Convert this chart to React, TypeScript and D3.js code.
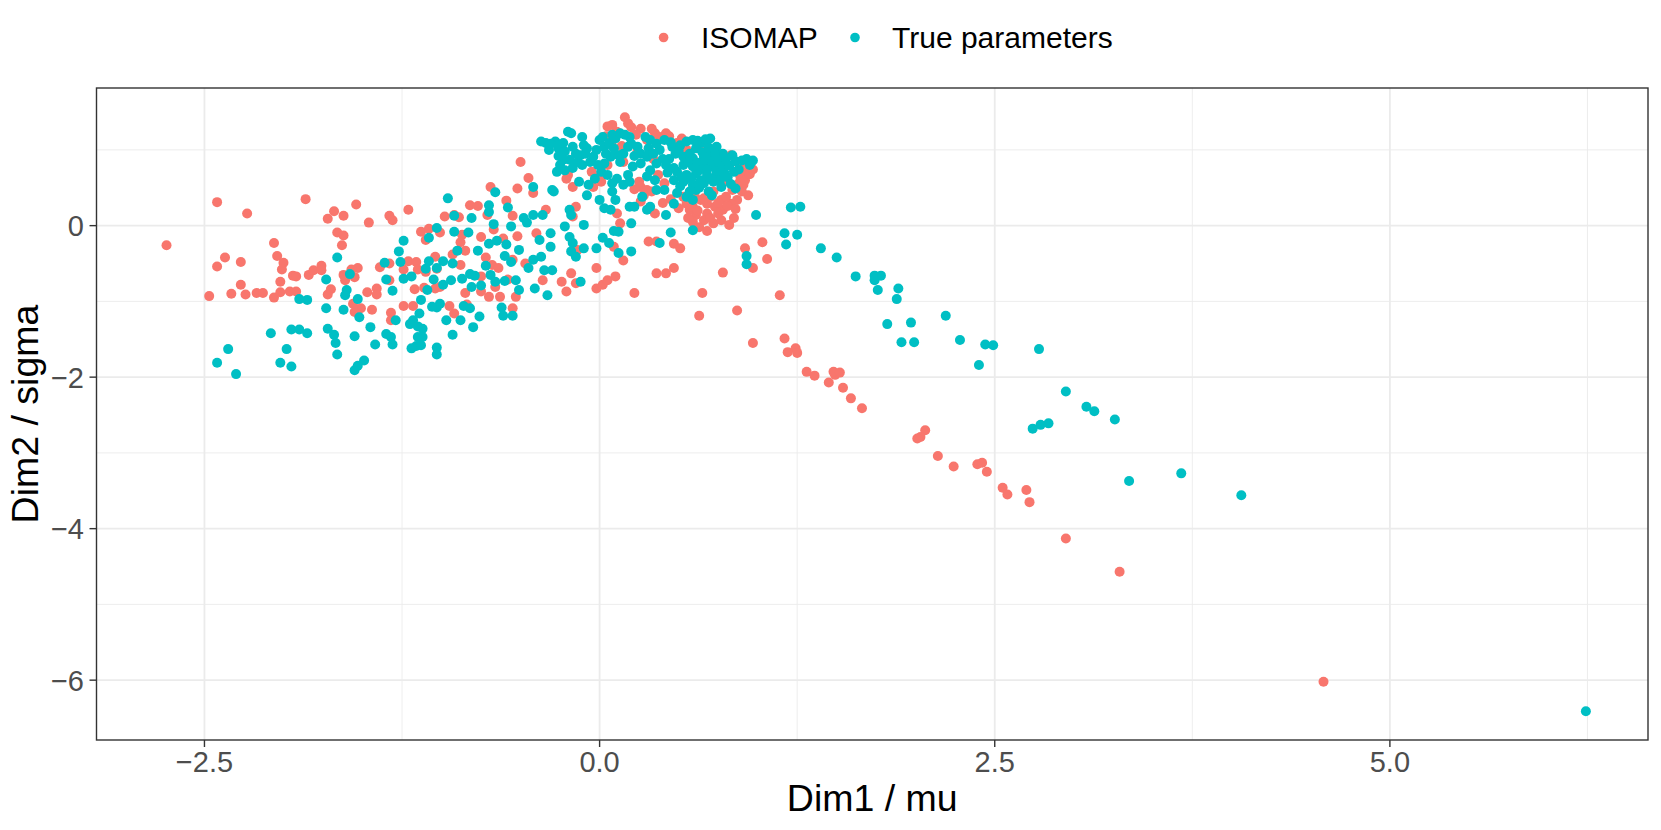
import React from 'react';
import * as d3 from 'd3';

const isomapPoints: [number, number][] = [
  [-2.74,-0.26],[-2.42,0.31],[-2.23,0.16],[-1.86,0.35],[-1.54,0.28],[-1.68,0.19],[-1.72,0.09],[-1.62,0.13],[-1.46,0.04],[-1.33,0.13],[-1.31,0.07],[-1.21,0.21],[-1.66,-0.09],[-1.62,-0.13],[-1.63,-0.26],[-2.06,-0.23],[-2.04,-0.40],[-2.00,-0.49],[-2.01,-0.58],[-2.37,-0.42],[-2.42,-0.54],[-2.27,-0.48],[-2.27,-0.78],[-2.33,-0.90],[-2.24,-0.91],[-2.47,-0.93],[-2.17,-0.89],[-2.13,-0.89],[-2.06,-0.95],[-2.02,-0.74],[-2.02,-0.88],[-1.96,-0.87],[-1.92,-0.87],[-1.94,-0.66],[-1.92,-0.67],[-1.84,-0.65],[-1.81,-0.59],[-1.76,-0.53],[-1.76,-0.59],[-1.62,-0.65],[-1.61,-0.72],[-1.53,-0.56],[-1.55,-0.68],[-1.57,-0.58],[-1.72,-0.91],[-1.70,-0.84],[-1.47,-0.88],[-1.41,-0.83],[-1.41,-0.91],[-1.39,-0.55],[-1.33,-0.50],[-1.33,-0.72],[-1.24,-0.58],[-1.21,-0.47],[-1.16,-0.48],[-1.17,-0.84],[-1.13,-0.08],[-1.08,-0.04],[-1.01,-0.09],[-0.98,0.12],[-0.92,0.14],[-0.89,0.11],[-0.82,0.27],[-0.77,0.26],[-0.69,0.51],[-0.59,0.33],[-0.52,0.49],[-0.71,0.14],[-0.75,-0.15],[-0.67,-0.05],[-0.61,-0.17],[-0.52,-0.14],[-0.55,0.13],[-0.87,-0.12],[-0.88,-0.22],[-0.93,-0.38],[-0.85,-0.33],[-1.04,-0.41],[-1.03,-0.57],[-1.15,-0.58],[-1.10,-0.61],[-1.04,-0.83],[-0.95,-1.06],[-0.92,-1.16],[-0.84,-1.04],[-0.70,-0.94],[-0.63,-0.94],[-0.55,-1.09],[-0.75,-0.87],[-0.66,-0.81],[-0.58,-0.71],[-0.53,-0.94],[-0.68,-0.52],[-0.64,-0.56],[-0.75,-0.67],[-0.88,-0.52],[-1.01,-0.81],[-1.11,-0.82],[-1.24,-1.06],[-1.18,-1.06],[-1.32,-1.15],[-1.32,-1.25],[-1.51,-1.09],[-1.55,-1.14],[-1.44,-1.11],[-1.56,-1.03],[-1.10,-0.19],[-0.85,-0.89],[-0.55,-0.45],[-0.72,-0.42],
  [0.16,1.43],[0.18,1.35],[0.08,1.33],[0.05,1.31],[0.11,1.24],[0.26,1.28],[0.35,1.22],[0.38,1.17],[0.47,1.06],[0.49,1.09],[0.78,0.93],[0.83,0.93],[0.87,0.84],[0.89,0.80],[0.93,0.71],[0.88,0.56],[0.91,0.54],[0.94,0.40],[0.87,0.34],[0.83,0.29],[0.77,0.34],[0.73,0.25],[0.68,0.16],[0.61,0.14],[0.57,0.21],[0.55,0.29],[0.53,0.38],[0.50,0.23],[0.66,0.07],[0.72,0.03],[0.77,0.07],[0.82,0.01],[0.59,0.05],[0.26,0.51],[0.25,0.58],[0.30,0.47],[0.26,0.32],[0.35,0.16],[0.33,0.45],[0.37,0.67],[0.41,0.56],[0.05,0.80],[0.00,0.65],[0.01,0.58],[0.12,0.93],[0.15,0.84],[-0.04,0.51],[-0.05,0.71],[-0.20,0.67],[-0.21,0.62],[-0.17,0.51],[-0.34,0.21],[-0.15,0.25],[-0.17,0.12],[0.11,0.16],[0.13,0.03],[0.64,0.34],[0.68,0.29],[0.59,0.25],[0.70,0.38],[0.80,0.38],[0.84,0.47],[0.78,0.21],[0.30,1.13],[0.42,1.22],[0.55,1.00],[0.80,0.60],[0.89,0.65],[0.92,0.60],
  [0.60,0.42],[0.66,0.36],[0.72,0.45],[0.75,0.30],[0.81,0.26],[0.86,0.22],[0.90,0.45],[0.95,0.68],[0.97,0.74],[0.62,0.20],[0.70,0.10],[0.75,0.16],[0.85,0.10],[0.63,-0.02],[0.56,0.10],[0.45,0.35],[0.40,0.30],[0.28,0.40],[0.22,0.48],[0.34,0.88],[0.44,1.18],[0.52,1.15],[0.23,1.20],[0.33,1.28],[0.20,1.30],[0.08,1.12],[0.14,1.05],[0.24,0.98],[0.04,1.18],[0.63,1.05],[0.72,0.98],
  [-0.50,0.84],[-0.45,0.63],[-0.40,-0.10],[-0.42,0.43],[0.31,-0.21],[0.36,-0.21],[0.47,-0.24],[0.51,-0.30],[0.36,-0.63],[0.42,-0.63],[0.47,-0.56],[-0.02,-0.56],[0.10,-0.67],[0.02,-0.78],[0.05,-0.72],[-0.02,-0.83],[-0.18,-0.63],[-0.15,-0.76],[-0.24,-0.74],[-0.21,-0.87],[-0.47,-0.50],[-0.36,-0.72],[-0.14,-0.32],[0.09,-0.28],[0.15,-0.46],[0.22,-0.89],
  [0.92,-0.30],[1.03,-0.22],[1.06,-0.44],[0.97,-0.56],[0.78,-0.62],[0.65,-0.89],[1.14,-0.92],[0.68,-0.07],
  [0.63,-1.19],[0.87,-1.12],[0.97,-1.55],[1.17,-1.49],[1.19,-1.67],[1.24,-1.62],[1.25,-1.68],[1.31,-1.93],[1.36,-1.98],[1.45,-2.07],[1.49,-1.97],[1.48,-1.93],
  [1.52,-1.94],[1.54,-2.14],[1.59,-2.28],[1.66,-2.41],[2.06,-2.70],[2.03,-2.79],[2.01,-2.81],[2.14,-3.04],[2.24,-3.18],[2.39,-3.15],[2.42,-3.13],[2.45,-3.25],[2.55,-3.46],[2.58,-3.55],[2.70,-3.49],[2.72,-3.65],[2.95,-4.13],[3.29,-4.57],[4.58,-6.02]
];

const truePoints: [number, number][] = [
  [-0.96,0.36],[-0.66,0.44],[-0.70,0.27],[-0.70,0.18],[-0.58,0.24],[-0.92,0.13],[-0.81,0.10],[-0.92,-0.08],[-0.83,-0.09],[-0.67,0.02],[-0.56,-0.01],[-1.03,-0.03],[-1.08,-0.16],[-1.24,-0.20],[-1.27,-0.34],[-1.26,-0.48],[-1.36,-0.49],[-1.66,-0.42],[-1.58,-0.64],[-1.35,-0.71],[-1.31,-0.86],[-1.24,-0.70],[-1.19,-0.67],[-1.10,-0.57],[-1.08,-0.47],[-1.03,-0.56],[-0.99,-0.47],[-0.93,-0.50],[-1.05,-0.71],[-0.99,-0.78],[-0.94,-0.72],[-1.09,-0.85],[-0.87,-0.70],[-0.90,-0.33],[-0.77,-0.33],[-0.70,-0.24],[-0.65,-0.20],[-0.60,-0.40],[-0.56,-0.48],[-0.72,-0.53],[-0.69,-0.65],[-0.82,-0.64],[-0.79,-0.66],[-0.81,-0.81],[-0.75,-0.79],[-0.66,-0.74],[-0.60,-0.73],[-0.53,-0.72],[-0.86,-1.06],[-0.82,-1.09],[-0.76,-1.20],[-0.80,-1.34],[-0.88,-1.25],[-0.97,-1.25],[-0.93,-1.44],[-1.03,-1.08],[-1.01,-1.03],[-1.06,-1.07],[-1.13,-0.98],[-1.14,-1.16],[-1.18,-1.25],[-1.20,-1.30],[-1.15,-1.33],[-1.12,-1.36],[-1.12,-1.47],[-1.15,-1.47],[-1.16,-1.59],[-1.19,-1.62],[-1.13,-1.58],[-1.03,-1.61],[-1.03,-1.70],[-1.29,-1.25],[-1.35,-1.43],[-1.32,-1.47],[-1.31,-1.57],[-1.42,-1.57],[-1.45,-1.34],[-1.52,-1.21],[-1.53,-0.97],[-1.60,-0.85],[-1.61,-0.92],[-1.73,-0.71],[-1.73,-1.09],[-1.62,-1.11],[-1.72,-1.36],[-1.68,-1.44],[-1.67,-1.55],[-1.66,-1.70],[-1.55,-1.46],[-1.49,-1.78],[-1.53,-1.85],[-1.55,-1.91],[-1.90,-0.97],[-1.85,-0.98],[-1.95,-1.37],[-1.90,-1.37],[-1.85,-1.42],[-2.08,-1.42],[-1.98,-1.63],[-2.02,-1.81],[-1.95,-1.86],[-2.35,-1.63],[-2.42,-1.81],[-2.30,-1.96],[-0.62,-1.08],[-0.61,-1.19],[-0.55,-1.19],[-0.51,-0.85],[-0.59,-0.25],[-0.51,-0.32],
  [-0.37,1.11],[-0.34,1.09],[-0.32,1.00],[-0.28,1.11],[-0.26,1.02],[-0.23,1.09],[-0.22,0.98],[-0.20,1.24],[-0.18,1.22],[-0.17,1.04],[-0.15,0.95],[-0.11,1.17],[-0.10,1.06],[-0.08,1.02],[-0.09,0.95],[-0.14,0.84],[-0.19,0.87],[-0.23,0.87],[-0.25,0.80],[-0.27,0.71],[-0.22,0.73],[-0.17,0.76],[-0.11,0.80],[-0.06,0.84],[-0.04,0.91],[-0.02,1.00],[0.00,1.13],[0.02,1.17],[0.03,1.04],[0.06,1.09],[0.08,1.20],[0.10,1.15],[0.13,1.22],[0.16,1.20],[0.19,1.17],[0.18,1.04],[0.15,0.95],[0.12,0.93],[0.07,0.91],[0.03,0.82],[0.01,0.71],[0.05,0.67],[0.11,0.62],[0.08,0.56],[0.15,0.54],[0.19,0.58],[0.18,0.67],[0.21,0.78],[0.26,0.82],[0.26,0.95],[0.24,1.04],[0.29,1.17],[0.32,1.13],[0.31,1.02],[0.30,0.91],[0.34,0.95],[0.36,0.82],[0.32,0.73],[0.30,0.65],[0.35,0.60],[0.41,1.13],[0.46,1.04],[0.48,0.95],[0.51,1.06],[0.55,1.11],[0.59,1.13],[0.64,1.09],[0.70,1.15],[0.74,1.04],[0.78,0.95],[0.53,0.91],[0.59,0.89],[0.66,0.91],[0.70,0.93],[0.53,0.80],[0.59,0.78],[0.66,0.80],[0.72,0.78],[0.77,0.80],[0.49,0.71],[0.55,0.67],[0.61,0.69],[0.68,0.67],[0.74,0.67],[0.79,0.69],[0.84,0.93],[0.85,0.71],[0.47,0.60],[0.53,0.58],[0.59,0.54],[0.66,0.56],[0.72,0.58],[0.77,0.51],[0.86,0.49],[0.41,0.47],[0.49,0.43],[0.55,0.38],[0.61,0.47],[0.71,0.40],[0.96,0.84],[0.95,0.80],[0.36,0.47],[0.27,0.38],[0.22,0.25],[0.32,0.25],[0.30,0.21],[0.42,0.14],[0.19,0.25],[0.07,0.21],[0.03,0.23],[0.08,0.45],[0.10,0.34],[0.00,0.34],[-0.08,0.40],[-0.07,0.54],[-0.13,0.58],[-0.03,0.62],[-0.29,0.45],[-0.30,0.47],[-0.19,0.21],[-0.18,0.14],[-0.10,0.01],[-0.22,-0.01],[-0.36,0.14],[0.47,0.29],[0.59,0.34],[0.99,0.14],[0.20,0.03],
  [0.44,0.88],[0.47,0.76],[0.50,0.99],[0.52,0.64],[0.56,0.84],[0.57,0.95],[0.58,0.62],[0.61,1.02],[0.62,0.83],[0.63,0.73],[0.64,0.60],[0.65,0.97],[0.67,0.86],[0.68,0.74],[0.69,1.03],[0.70,0.62],[0.71,0.85],[0.73,0.95],[0.74,0.72],[0.75,0.86],[0.76,0.59],[0.78,0.77],[0.80,0.88],[0.81,0.64],[0.82,0.79],[0.83,0.55],[0.86,0.85],[0.88,0.74],[0.90,0.86],[0.43,0.70],[0.45,1.10],[0.62,1.12],[0.67,1.14],[0.51,0.52],[0.63,0.50],[0.69,0.45],[0.57,0.45],[0.40,0.88],[0.38,1.00],[0.42,0.80],[0.36,1.08],[0.22,0.92],[0.20,1.08],[0.09,1.02],[0.13,0.84],[-0.01,0.80],[-0.12,0.93],[-0.26,0.92],[-0.31,1.08],[0.04,0.95],[0.93,0.88],[0.97,0.86],
  [-0.42,0.51],[-0.48,0.10],[-0.46,0.04],[-0.42,0.14],[0.12,-0.08],[0.06,-0.23],[0.02,-0.16],[0.09,-0.07],[-0.02,-0.30],[-0.10,-0.30],[-0.19,-0.15],[-0.17,-0.23],[-0.31,-0.10],[-0.38,-0.19],[-0.31,-0.28],[-0.37,-0.41],[-0.42,-0.45],[-0.45,-0.56],[-0.35,-0.59],[-0.30,-0.59],[-0.41,-0.83],[-0.33,-0.92],[-0.12,-0.74],[-0.18,-0.34],[-0.15,-0.41],[0.45,-0.09],[0.38,-0.23],[0.12,-0.36],[0.20,-0.34],[0.59,-0.06],
  [1.21,0.24],[1.27,0.25],[1.17,-0.10],[1.25,-0.12],[1.18,-0.25],[1.40,-0.30],[1.50,-0.42],[1.62,-0.67],[1.74,-0.66],[1.78,-0.66],[1.74,-0.72],[1.76,-0.85],[1.89,-0.83],[1.88,-0.97],[0.93,-0.40],[0.93,-0.51],
  [1.82,-1.30],[1.97,-1.28],[2.19,-1.19],[1.91,-1.54],[1.99,-1.54],[2.28,-1.51],[2.44,-1.57],[2.49,-1.58],[2.78,-1.63],[2.40,-1.84],[2.95,-2.19],[3.08,-2.39],[3.13,-2.45],[3.26,-2.56],[2.74,-2.68],[2.79,-2.63],[2.84,-2.61],[3.35,-3.37],[3.68,-3.27],[4.06,-3.56],[6.24,-6.41]
];

const xTicks = [-2.5, 0, 2.5, 5];
const xTickLabels = ['\u22122.5', '0.0', '2.5', '5.0'];
const xMinorTicks = [-1.25, 1.25, 3.75, 6.25];
const yTicks = [0, -2, -4, -6];
const yTickLabels = ['0', '\u22122', '\u22124', '\u22126'];
const yMinorTicks = [1, -1, -3, -5];
const seriesNames = ['ISOMAP', 'True parameters'];
const seriesColors = ['#F8766D', '#00BFC4'];
const xTitle = 'Dim1 / mu';
const yTitle = 'Dim2 / sigma';

const FONT = "'Liberation Sans', Arial, Helvetica, sans-serif";

export default function App() {
  const W = 1661, H = 830;
  const left = 96.5, right = 1648, top = 88, bottom = 740;
  const x = d3.scaleLinear().domain([-3.183, 6.633]).range([left, right]);
  const y = d3.scaleLinear().domain([-6.79, 1.817]).range([bottom, top]);
  const series = [isomapPoints, truePoints];
  const legendDotX = [663.6, 855];
  const legendTextX = [701, 892];

  return (
    <svg width={W} height={H} viewBox={`0 0 ${W} ${H}`}
      style={{ position: 'absolute', left: 0, top: 0, background: '#fff' }}
      fontFamily={FONT}>
      <rect x={0} y={0} width={W} height={H} fill="#fff" />
      <defs>
        <clipPath id="panel">
          <rect x={left} y={top} width={right - left} height={bottom - top} />
        </clipPath>
      </defs>
      <g>
        {xMinorTicks.map((t) => (
          <line key={'xm' + t} x1={x(t)} x2={x(t)} y1={top} y2={bottom} stroke="#EBEBEB" strokeWidth={0.9} />
        ))}
        {yMinorTicks.map((t) => (
          <line key={'ym' + t} x1={left} x2={right} y1={y(t)} y2={y(t)} stroke="#EBEBEB" strokeWidth={0.9} />
        ))}
        {xTicks.map((t) => (
          <line key={'xg' + t} x1={x(t)} x2={x(t)} y1={top} y2={bottom} stroke="#EBEBEB" strokeWidth={1.8} />
        ))}
        {yTicks.map((t) => (
          <line key={'yg' + t} x1={left} x2={right} y1={y(t)} y2={y(t)} stroke="#EBEBEB" strokeWidth={1.8} />
        ))}
      </g>
      <g clipPath="url(#panel)">
        {series.map((pts, si) => (
          <g key={'s' + si} fill={seriesColors[si]}>
            {pts.map((p, i) => (
              <circle key={i} cx={x(p[0])} cy={y(p[1])} r={5} />
            ))}
          </g>
        ))}
      </g>
      <rect x={left} y={top} width={right - left} height={bottom - top} fill="none" stroke="#333333" strokeWidth={1.4} />
      {xTicks.map((t, i) => (
        <g key={'xt' + t}>
          <line x1={x(t)} x2={x(t)} y1={bottom} y2={bottom + 7} stroke="#333333" strokeWidth={1.4} />
          <text x={x(t)} y={772} textAnchor="middle" fontSize={29} fill="#4D4D4D">{xTickLabels[i]}</text>
        </g>
      ))}
      {yTicks.map((t, i) => (
        <g key={'yt' + t}>
          <line x1={left - 7} x2={left} y1={y(t)} y2={y(t)} stroke="#333333" strokeWidth={1.4} />
          <text x={84} y={y(t) + 10.4} textAnchor="end" fontSize={29} fill="#4D4D4D">{yTickLabels[i]}</text>
        </g>
      ))}
      <text x={(left + right) / 2} y={811} textAnchor="middle" fontSize={37.5} fill="#000">{xTitle}</text>
      <text transform={`translate(38, ${(top + bottom) / 2}) rotate(-90)`} textAnchor="middle" fontSize={37.5} fill="#000">{yTitle}</text>
      {seriesNames.map((n, i) => (
        <g key={'lg' + i}>
          <circle cx={legendDotX[i]} cy={37.5} r={4.8} fill={seriesColors[i]} />
          <text x={legendTextX[i]} y={48.2} fontSize={30} fill="#000">{n}</text>
        </g>
      ))}
    </svg>
  );
}
